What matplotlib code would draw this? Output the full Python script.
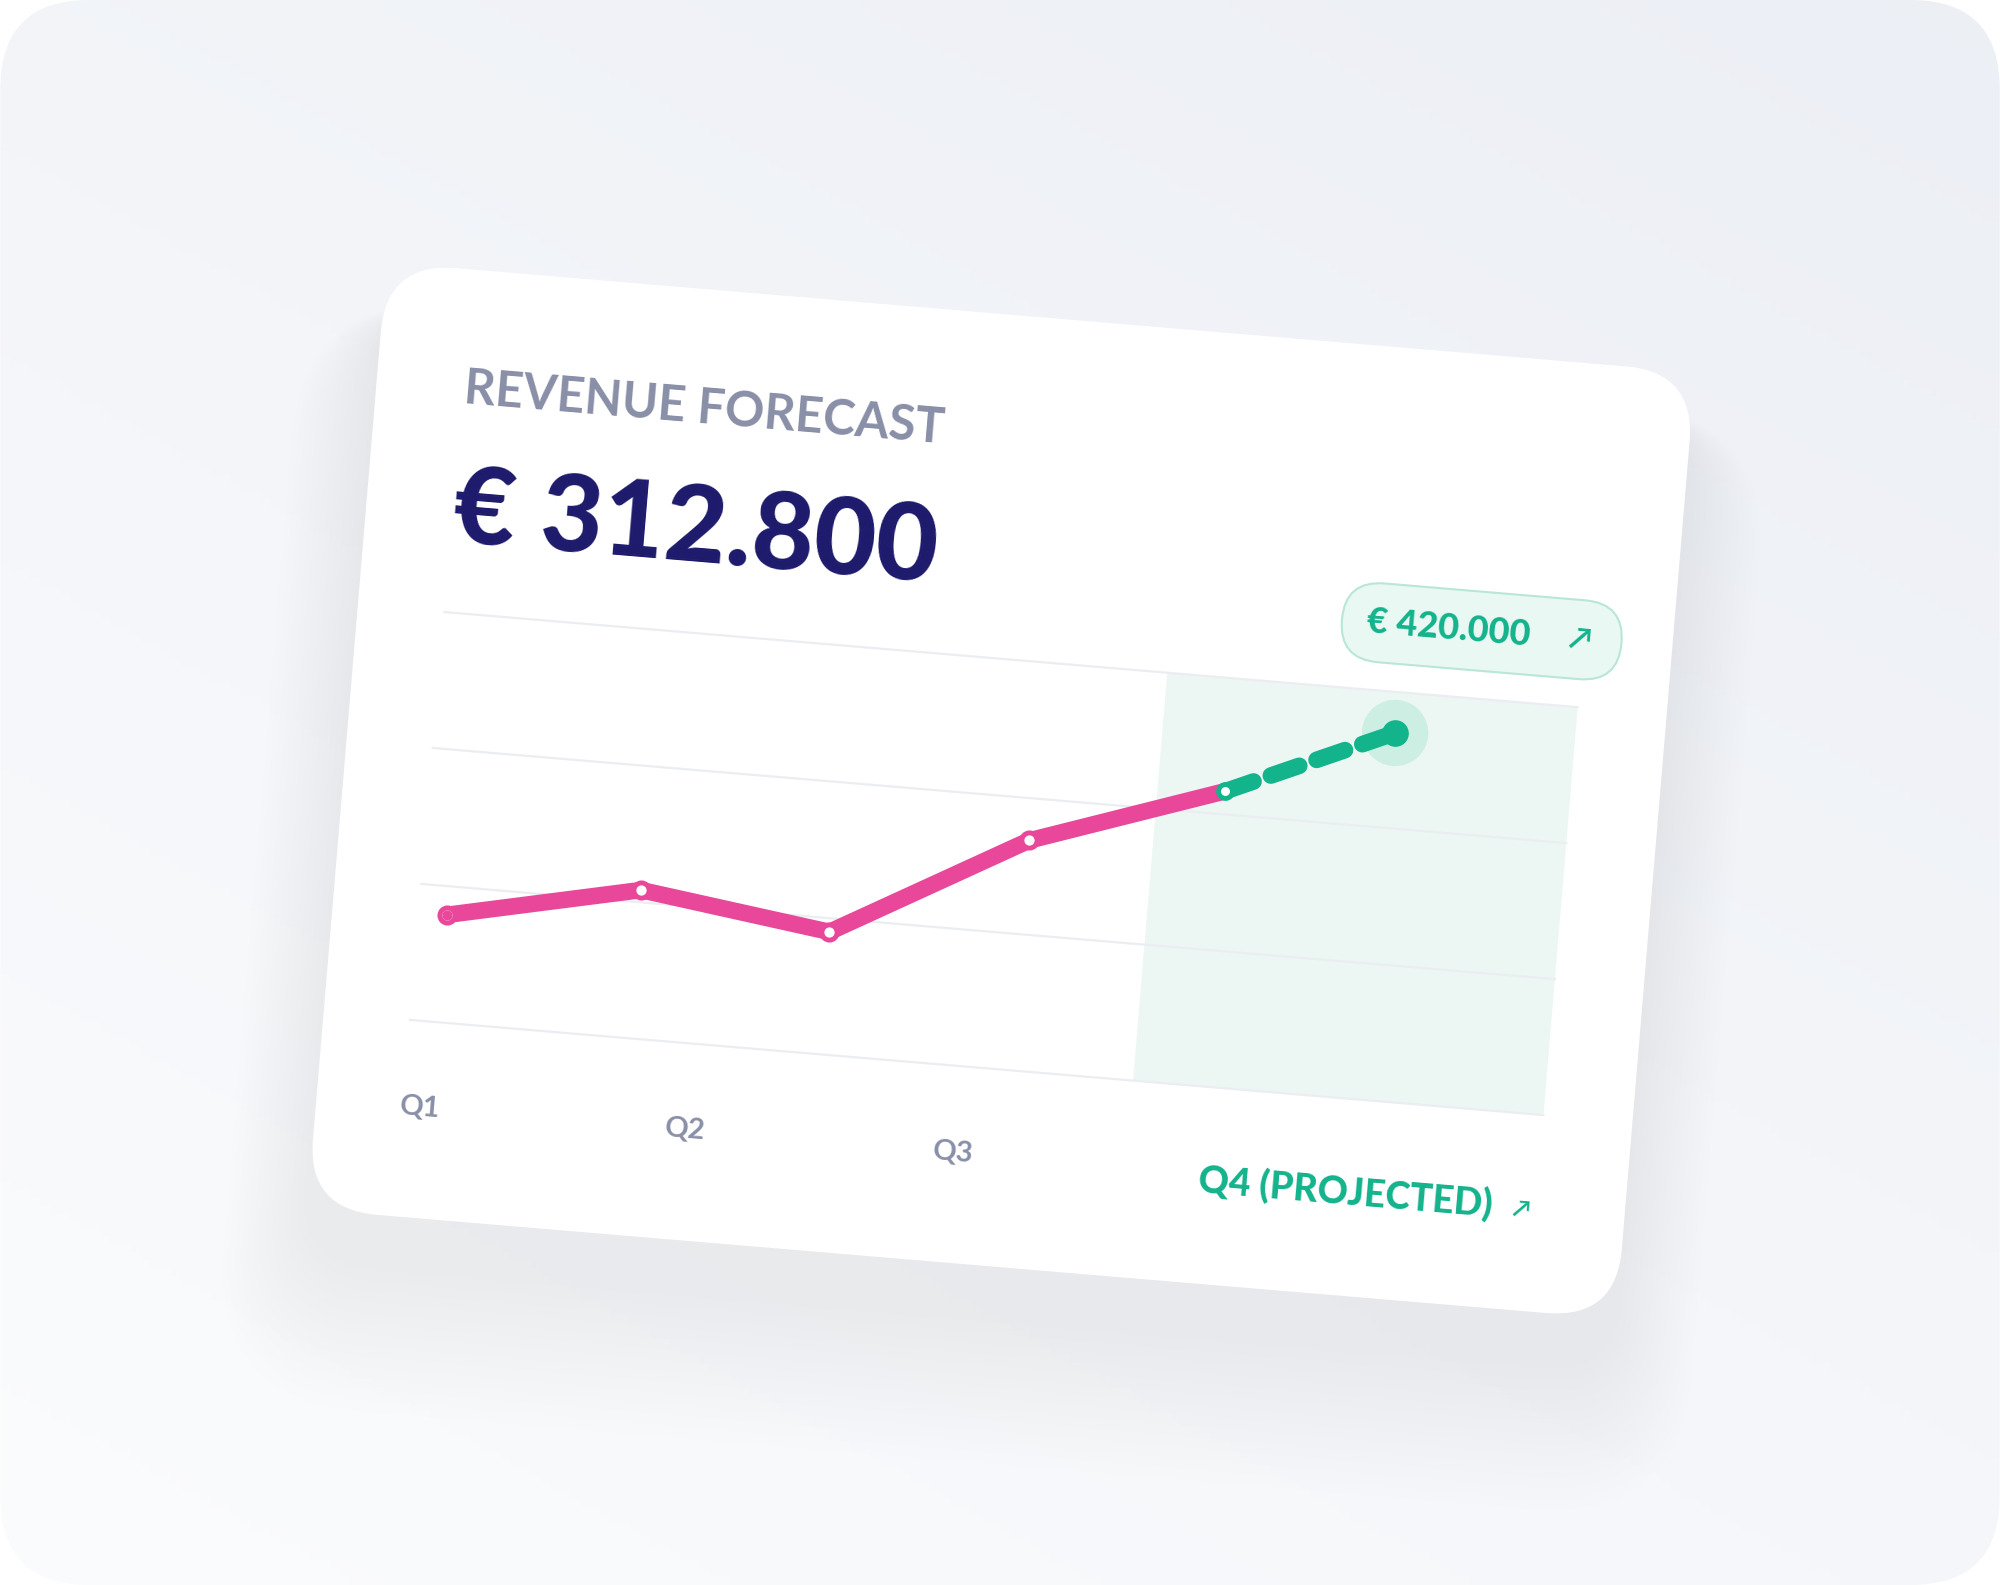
import matplotlib.pyplot as plt
import numpy as np
from matplotlib.patches import FancyBboxPatch, Circle
from matplotlib.transforms import Affine2D

plt.rcParams["font.family"] = ["Lato", "DejaVu Sans"]

# data (k EUR)
actual_idx = [0, 1, 2, 3, 4]
actual_val = [229, 259, 240, 319, 367]
proj_idx = [4, 4.86]
proj_val = [367, 420]
quarter_labels = ["Q1", "Q2", "Q3"]
headline = "€ 312.800"
badge_text = "€ 420.000"

PINK = "#e8479a"
GREEN = "#13b38b"
NAVY = "#1d1a6c"
GREY = "#8a8fa8"

W, H = 1568, 1243
fig = plt.figure(figsize=(20, 15.85), dpi=100)
ax = fig.add_axes([0, 0, 1, 1])
ax.set_xlim(0, W)
ax.set_ylim(H, 0)
ax.axis("off")

# background gradient with rounded frame
yy, xx = np.mgrid[0:1:200j, 0:1:200j]
g = 0.35 * xx + 0.25 * (1 - yy) - 0.25 * yy
g = (g - g.min()) / (g.max() - g.min())
c1 = np.array([0.985, 0.988, 0.993])
c2 = np.array([0.925, 0.937, 0.960])
img = c1 + (c2 - c1) * g[..., None]
im = ax.imshow(img, extent=(0, W, H, 0), zorder=0)
frame = FancyBboxPatch((0, 0), W, H, boxstyle="round,pad=0,rounding_size=70",
                       facecolor="none", edgecolor="none", transform=ax.transData)
ax.add_patch(frame)
im.set_clip_path(frame)

# card frame: local coords centered on card, y down, rotated clockwise
ANG = 4.8
tr = Affine2D().rotate_deg(ANG).translate(785, 620) + ax.transData
CW, CH = 1030, 745

for i in range(14):
    grow = 8 + i * 9
    ax.add_patch(FancyBboxPatch((-CW / 2 - grow / 2, -CH / 2 + 40 - grow / 2 + i * 4),
                                CW + grow, CH + grow,
                                boxstyle="round,pad=0,rounding_size=%d" % (55 + grow / 2),
                                facecolor="#3a4270", edgecolor="none", alpha=0.005,
                                transform=tr, zorder=1))
ax.add_patch(FancyBboxPatch((-CW / 2, -CH / 2), CW, CH,
                            boxstyle="round,pad=0,rounding_size=55",
                            facecolor="white", edgecolor="none", transform=tr, zorder=2))

ROT = -ANG
ax.text(-446, -279, "REVENUE FORECAST", transform=tr, rotation=ROT, rotation_mode="anchor",
        ha="left", va="center", fontsize=35, fontweight="bold", color=GREY, zorder=5)
ax.text(-446, -183, headline, transform=tr, rotation=ROT, rotation_mode="anchor",
        ha="left", va="center", fontsize=77, fontweight="black", color=NAVY, zorder=5)

# plot area
x0, x1, ytop, ybot = -447, 445, -103, 218
vmin, vmax = 150, 450


def px(i):
    return -425 + 150 * np.asarray(i, dtype=float)


def py(v):
    return ybot - (np.asarray(v, dtype=float) - vmin) * (ybot - ytop) / (vmax - vmin)


ax.add_patch(plt.Rectangle((122, ytop), x1 - 122, ybot - ytop, facecolor="#ecf7f3",
                           edgecolor="none", transform=tr, zorder=3))
for v in np.linspace(vmin, vmax, 4):
    ax.plot([x0, x1], [py(v)] * 2, color="#ebedf1", lw=1.6, transform=tr, zorder=4)

ax.plot(px(actual_idx), py(actual_val), color=PINK, lw=12, solid_capstyle="round",
        solid_joinstyle="round", transform=tr, zorder=6)
ax.plot(px(proj_idx), py(proj_val), color=GREEN, lw=12, dashes=(1.8, 1.1),
        dash_capstyle="round", transform=tr, zorder=6)
ax.scatter(px(actual_idx[:-1]), py(actual_val[:-1]), s=120, facecolor="white",
           edgecolor=PINK, linewidth=3.5, transform=tr, zorder=7)
ax.scatter(px(actual_idx[0]), py(actual_val[0]), s=40, color=PINK, transform=tr, zorder=8)
ax.scatter(px(proj_idx[0]), py(proj_val[0]), s=100, facecolor="white", edgecolor=GREEN,
           linewidth=3.5, transform=tr, zorder=8)
ax.add_patch(Circle((px(proj_idx[1]), py(proj_val[1])), 26, facecolor="#cdeee3",
                    edgecolor="none", transform=tr, zorder=5))
ax.scatter(px(proj_idx[1]), py(proj_val[1]), s=330, color=GREEN, transform=tr, zorder=8)

# quarter labels
for lx, lab in zip([-449, -241, -30], quarter_labels):
    ax.text(lx, 286, lab, transform=tr, rotation=ROT, rotation_mode="anchor",
            ha="left", va="center", fontsize=21, fontweight="bold", color=GREY, zorder=5)
ax.text(180, 291, "Q4 (PROJECTED)", transform=tr, rotation=ROT, rotation_mode="anchor",
        ha="left", va="center", fontsize=27, fontweight="black", color=GREEN, zorder=5)
ax.text(427, 293, "↗", transform=tr, rotation=ROT, rotation_mode="anchor",
        ha="left", va="center", fontsize=17, fontweight="bold", color=GREEN, zorder=5)

# badge
ax.add_patch(FancyBboxPatch((255, -187), 220, 62, boxstyle="round,pad=0,rounding_size=31",
                            facecolor="#eaf8f3", edgecolor="#b9e6d6", lw=1.5,
                            transform=tr, zorder=9))
ax.text(275, -156, badge_text, transform=tr, rotation=ROT, rotation_mode="anchor",
        ha="left", va="center", fontsize=26, fontweight="black", color=GREEN, zorder=10)
ax.text(433, -156, "↗", transform=tr, rotation=ROT, rotation_mode="anchor",
        ha="left", va="center", fontsize=22, fontweight="bold", color=GREEN, zorder=10)

fig.savefig("out.png", dpi=100, facecolor="white")
